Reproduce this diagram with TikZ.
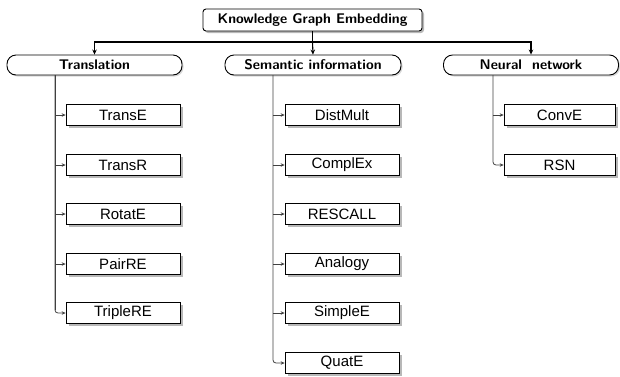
\documentclass[tikz,border=0pt]{standalone}
\usepackage{fontspec}
\newfontfamily\arialf{Liberation Sans}
\usetikzlibrary{shadows,arrows.meta}
\begin{document}
\begin{tikzpicture}[x=1pt,y=-1pt,
  rootbox/.style={draw, line width=0.9pt, rounded corners=3pt, fill=white,
    minimum width=219pt, minimum height=22pt, inner sep=0pt,
    font=\fontsize{14}{16}\selectfont\sffamily\bfseries,
    drop shadow={shadow xshift=2pt, shadow yshift=-2pt, fill=black!35, opacity=0.8}},
  catbox/.style={draw, line width=0.9pt, rounded corners=9pt, fill=white,
    minimum width=175pt, minimum height=20pt, inner sep=0pt,
    font=\fontsize{14}{16}\selectfont\sffamily\bfseries,
    drop shadow={shadow xshift=1.5pt, shadow yshift=-1.5pt, fill=black!25, opacity=0.6}},
  leafbox/.style={draw, line width=0.7pt, fill=white,
    minimum width=114pt, minimum height=21pt, inner sep=0pt,
    font=\fontsize{15}{17}\selectfont\arialf,
    drop shadow={shadow xshift=2.5pt, shadow yshift=-2.5pt, fill=black!35, opacity=0.8}},
  mainarrow/.style={line width=1.1pt, -{Stealth[length=5pt,width=4.5pt]}},
  trunk/.style={draw=black!75, line width=0.8pt},
  branch/.style={draw=black!75, line width=0.8pt, -{Stealth[length=4pt,width=3.5pt]}}
]
\useasboundingbox (0,0) rectangle (620,376);

\node[rootbox] (root) at (312.5,20) {Knowledge Graph Embedding};

\node[catbox] (trans) at (94.5,65) {Translation};
\node[catbox, minimum width=176pt] (sem) at (313,65) {Semantic information};
\node[catbox] (neur) at (531,65) {Neural\ \ network};

\coordinate (hub) at (312.5,42);
\draw[line width=1.1pt] (root.south) -- (hub);
\draw[mainarrow] (hub) -| (trans.north);
\draw[mainarrow] (hub) -| (neur.north);
\draw[mainarrow] (hub) -- (sem.north);

% Translation column
\node[leafbox] (transe) at (123,115) {TransE};
\node[leafbox] (transr) at (123,165) {TransR};
\node[leafbox] (rotate) at (123,214) {RotatE};
\node[leafbox] (pairre) at (123,264) {PairRE};
\node[leafbox] (triplere) at (123,313) {TripleRE};
\coordinate (t0) at (55,75);
\draw[trunk] (t0) -- (55,{313-3});
\foreach \c in {transe,transr,rotate,pairre}
  \draw[branch] (55,0 |- \c.west) -- (\c.west);
\draw[branch, rounded corners=3pt] (t0) |- (triplere.west);

% Semantic column
\node[leafbox] (distmult) at (342,115) {DistMult};
\node[leafbox] (complex) at (342,165) {ComplEx};
\node[leafbox] (rescal) at (342,214) {RESCALL};
\node[leafbox] (analogy) at (342,264) {Analogy};
\node[leafbox] (simple) at (342,313) {SimpleE};
\node[leafbox] (quate) at (342,363) {QuatE};
\coordinate (s0) at (273,75);
\foreach \c in {distmult,complex,rescal,analogy,simple}
  \draw[branch] (273,0 |- \c.west) -- (\c.west);
\draw[branch, rounded corners=3pt] (s0) |- (quate.west);

% Neural column
\node[leafbox, minimum width=111pt] (conve) at (559.5,115) {ConvE};
\node[leafbox, minimum width=111pt] (rsn) at (559.5,165) {RSN};
\coordinate (n0) at (493,75);
\draw[branch] (493,0 |- conve.west) -- (conve.west);
\draw[branch, rounded corners=3pt] (n0) |- (rsn.west);
\end{tikzpicture}
\end{document}
